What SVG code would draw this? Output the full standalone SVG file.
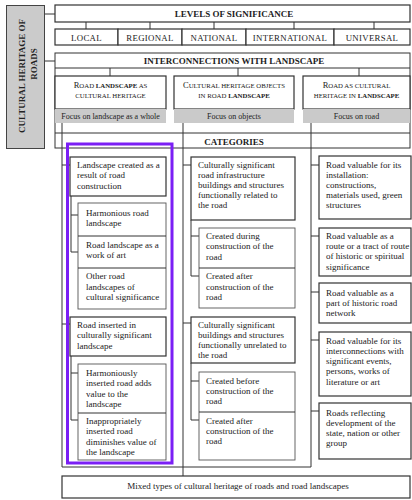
<svg xmlns="http://www.w3.org/2000/svg" width="412" height="500" viewBox="0 0 412 500">
<style>
text{font-family:"Liberation Serif","Times New Roman",serif;fill:#222}
.t{font-size:9px}
.h{font-size:9px;font-weight:bold;text-anchor:middle}
.lv{font-size:8.8px;text-anchor:middle;letter-spacing:0.3px}
.sc{font-size:6.8px;text-anchor:middle}
.f{font-size:8px;text-anchor:middle}
.box{fill:#fff;stroke:#333;stroke-width:1.2}
.sub{fill:#fff;stroke:#555;stroke-width:0.9}
.gray{fill:#cacaca}
.ln{stroke:#333;stroke-width:1;fill:none}
.b{font-weight:bold}
</style>
<rect width="412" height="500" fill="#fff"/>

<g id="connectors">
<path class="ln" d="M45,14H55M45,61H55"/>
<path class="ln" d="M86,22V29M150,22V29M214,22V29M294,22V29M374,22V29"/>
<path class="ln" d="M110,68V76M238,68V76M359,68V76"/>
<path class="ln" d="M62,123V467M183,123V476M311,123V467M62,467H311"/>
<path class="ln" d="M62,165H70M71,196V252M71,215H78M71,252H78"/>
<path class="ln" d="M62,324H70M71,356V420M71,373H78M71,420H78"/>
<path class="ln" d="M183,165H191M191,220V276M191,236H199M191,276H199"/>
<path class="ln" d="M183,323H191M191,363V420M191,381H199M191,420H199"/>
<path class="ln" d="M311,165H319M311,236H319M311,292H319M311,340H319M311,411H319"/>
</g>

<g id="root">
<rect x="6.5" y="5.5" width="38" height="143" fill="#cbcbcb" stroke="#444" stroke-width="1"/>
<text class="h" font-size="9.7" transform="translate(25,76) rotate(-90)">CULTURAL HERITAGE OF</text>
<text class="h" font-size="9.7" transform="translate(37,64) rotate(-90)">ROADS</text>
</g>

<g id="levels">
<rect class="box" x="55" y="5" width="355" height="17" stroke-width="1"/>
<text class="h" x="234" y="17">LEVELS OF SIGNIFICANCE</text>
</g>
<g id="local"><rect class="box" x="55" y="29" width="63" height="16" stroke-width="1"/><text class="lv" x="86.5" y="41">LOCAL</text></g>
<g id="regional"><rect class="box" x="118" y="29" width="64" height="16" stroke-width="1"/><text class="lv" x="150" y="41">REGIONAL</text></g>
<g id="national"><rect class="box" x="182" y="29" width="64" height="16" stroke-width="1"/><text class="lv" x="214" y="41">NATIONAL</text></g>
<g id="international"><rect class="box" x="246" y="29" width="88" height="16" stroke-width="1"/><text class="lv" x="290" y="41">INTERNATIONAL</text></g>
<g id="universal"><rect class="box" x="334" y="29" width="76" height="16" stroke-width="1"/><text class="lv" x="372" y="41">UNIVERSAL</text></g>

<g id="interconnections">
<rect x="55" y="53" width="355" height="95" fill="none" stroke="#333" stroke-width="1"/>
<line class="ln" x1="55" y1="68" x2="410" y2="68"/>
<text class="h" x="234" y="64">INTERCONNECTIONS WITH LANDSCAPE</text>
</g>

<g id="road-landscape">
<rect class="box" x="55" y="76" width="111" height="33" stroke-width="1"/>
<text class="sc" x="110.5" y="88"><tspan font-size="8.5">R</tspan>OAD <tspan class="b">LANDSCAPE</tspan> AS</text>
<text class="sc" x="110.5" y="98">CULTURAL HERITAGE</text>
<rect class="gray" x="55" y="109" width="111" height="14"/>
<text class="f" x="110.5" y="119">Focus on landscape as a whole</text>
</g>
<g id="objects">
<rect class="box" x="174" y="76" width="120" height="33" stroke-width="1"/>
<text class="sc" x="234" y="88"><tspan font-size="8.5">C</tspan>ULTURAL HERITAGE OBJECTS</text>
<text class="sc" x="234" y="98">IN ROAD <tspan class="b">LANDSCAPE</tspan></text>
<rect class="gray" x="174" y="109" width="120" height="14"/>
<text class="f" x="234" y="119">Focus on objects</text>
</g>
<g id="road-heritage">
<rect class="box" x="303" y="76" width="107" height="33" stroke-width="1"/>
<text class="sc" x="356.5" y="88"><tspan font-size="8.5">R</tspan>OAD AS CULTURAL</text>
<text class="sc" x="356.5" y="98">HERITAGE IN <tspan class="b">LANDSCAPE</tspan></text>
<rect class="gray" x="303" y="109" width="107" height="14"/>
<text class="f" x="356.5" y="119">Focus on road</text>
</g>

<g id="categories">
<line class="ln" x1="55" y1="133" x2="410" y2="133"/>
<text class="h" x="234" y="145">CATEGORIES</text>
</g>

<g id="c1a">
<rect class="box" x="70" y="157" width="96" height="39"/>
<text class="t" x="77" y="168">Landscape created as a</text>
<text class="t" x="77" y="178">result of road</text>
<text class="t" x="77" y="188.5">construction</text>
</g>
<g id="c1a-sub">
<rect class="sub" x="78" y="203" width="88" height="106"/>
<path class="ln" d="M78,236H166M78,268H166" stroke="#555"/>
<text class="t" x="86" y="216">Harmonious road</text>
<text class="t" x="86" y="226">landscape</text>
<text class="t" x="86" y="248">Road landscape as  a</text>
<text class="t" x="86" y="258">work of art</text>
<text class="t" x="86" y="279">Other road</text>
<text class="t" x="86" y="289.5">landscapes of</text>
<text class="t" x="86" y="300">cultural significance</text>
</g>
<g id="c1b">
<rect class="box" x="70" y="317" width="96" height="39"/>
<text class="t" x="77" y="328">Road inserted in</text>
<text class="t" x="77" y="338">culturally significant</text>
<text class="t" x="77" y="348.5">landscape</text>
</g>
<g id="c1b-sub">
<rect class="sub" x="78" y="364" width="88" height="96"/>
<path class="ln" d="M78,413H166" stroke="#555"/>
<text class="t" x="86" y="376">Harmoniously</text>
<text class="t" x="86" y="386">inserted road adds</text>
<text class="t" x="86" y="396.5">value to the</text>
<text class="t" x="86" y="407">landscape</text>
<text class="t" x="86" y="424">Inappropriately</text>
<text class="t" x="86" y="434">inserted road</text>
<text class="t" x="86" y="444.5">diminishes value of</text>
<text class="t" x="86" y="455">the landscape</text>
</g>

<g id="c2a">
<rect class="box" x="191" y="157" width="104" height="63"/>
<text class="t" x="198" y="168">Culturally significant</text>
<text class="t" x="198" y="178">road infrastructure</text>
<text class="t" x="198" y="188">buildings and structures</text>
<text class="t" x="198" y="198">functionally related to</text>
<text class="t" x="198" y="208">the road</text>
</g>
<g id="c2a-sub">
<rect class="sub" x="199" y="228" width="96" height="80"/>
<path class="ln" d="M199,268H295" stroke="#555"/>
<text class="t" x="206" y="239">Created during</text>
<text class="t" x="206" y="249">construction of the</text>
<text class="t" x="206" y="260">road</text>
<text class="t" x="206" y="279">Created after</text>
<text class="t" x="206" y="289.5">construction of the</text>
<text class="t" x="206" y="300">road</text>
</g>
<g id="c2b">
<rect class="box" x="191" y="317" width="104" height="46"/>
<text class="t" x="198" y="327.5">Culturally significant</text>
<text class="t" x="198" y="338">buildings and structures</text>
<text class="t" x="198" y="348">functionally unrelated to</text>
<text class="t" x="198" y="358">the road</text>
</g>
<g id="c2b-sub">
<rect class="sub" x="199" y="372" width="96" height="88"/>
<path class="ln" d="M199,412H295" stroke="#555"/>
<text class="t" x="206" y="383.5">Created before</text>
<text class="t" x="206" y="394">construction of the</text>
<text class="t" x="206" y="404">road</text>
<text class="t" x="206" y="423.5">Created after</text>
<text class="t" x="206" y="433.5">construction of the</text>
<text class="t" x="206" y="444">road</text>
</g>

<g id="c3a">
<rect class="box" x="319" y="156" width="92" height="63"/>
<text class="t" x="326" y="168">Road valuable for its</text>
<text class="t" x="326" y="177.5">installation:</text>
<text class="t" x="326" y="187.5">constructions,</text>
<text class="t" x="326" y="198">materials used, green</text>
<text class="t" x="326" y="208">structures</text>
</g>
<g id="c3b">
<rect class="box" x="319" y="228" width="92" height="48"/>
<text class="t" x="326" y="239">Road valuable as a</text>
<text class="t" x="326" y="249">route or a tract of route</text>
<text class="t" x="326" y="259">of historic or spiritual</text>
<text class="t" x="326" y="269.5">significance</text>
</g>
<g id="c3c">
<rect class="box" x="319" y="283" width="92" height="40"/>
<text class="t" x="326" y="295.5">Road valuable as a</text>
<text class="t" x="326" y="306">part of historic road</text>
<text class="t" x="326" y="316">network</text>
</g>
<g id="c3d">
<rect class="box" x="319" y="332" width="92" height="64"/>
<text class="t" x="326" y="344">Road valuable for its</text>
<text class="t" x="326" y="354">interconnections with</text>
<text class="t" x="326" y="364">significant events,</text>
<text class="t" x="326" y="374">persons, works of</text>
<text class="t" x="326" y="384.5">literature or art</text>
</g>
<g id="c3e">
<rect class="box" x="319" y="403" width="92" height="56"/>
<text class="t" x="326" y="415.5">Roads reflecting</text>
<text class="t" x="326" y="425.5">development of the</text>
<text class="t" x="326" y="435.5">state, nation or other</text>
<text class="t" x="326" y="446">group</text>
</g>

<g id="mixed">
<rect class="box" x="62" y="476" width="348" height="22" stroke-width="1"/>
<text class="t" x="238" y="489" font-size="8.8" text-anchor="middle">Mixed types of cultural heritage of roads and road landscapes</text>
</g>

<g id="highlight">
<rect x="67.5" y="144" width="104.5" height="319" fill="none" stroke="#7b1ff5" stroke-width="3"/>
</g>
</svg>
